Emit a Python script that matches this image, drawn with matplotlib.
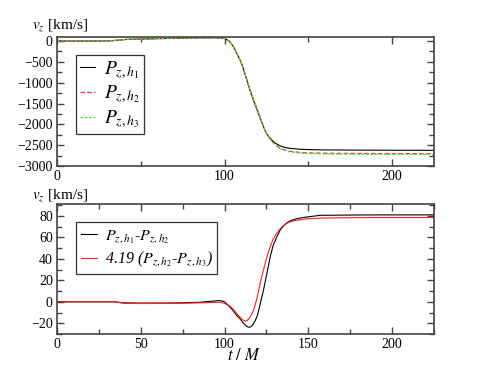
import numpy as np
import matplotlib as mpl
mpl.use('Agg')
import matplotlib.pyplot as plt
from matplotlib import ticker

plt.rcParams['font.family'] = ['Liberation Serif', 'DejaVu Serif']
plt.rcParams['mathtext.fontset'] = 'stix'
plt.rcParams['font.size'] = 10

# top panel: P_z for three resolutions
t_top = [0, 10, 20, 30, 34, 38, 42, 50, 60, 70, 85, 95, 100, 103, 105.3, 107, 109.3, 111,
         113.3, 115, 117.2, 120.2, 123.2, 125, 127.2, 130, 133.1, 136, 139.1, 145,
         150, 160, 180, 200, 225]
pz_h1 = [0, 0, 0, 2, 12, 28, 40, 48, 58, 66, 78, 80, 65, -10, -136, -270, -456, -640,
         -936, -1160, -1416, -1736, -2056, -2220, -2336, -2445, -2515, -2555, -2576, -2598,
         -2607, -2614, -2619, -2622, -2624]
pz_h2 = [0, 0, 0, 2, 12, 28, 40, 48, 58, 66, 78, 80, 65, -10, -136, -270, -455, -636,
         -928, -1148, -1398, -1715, -2046, -2222, -2355, -2480, -2570, -2620, -2648, -2675,
         -2686, -2694, -2700, -2703, -2705]
pz_h3 = [0, 0, 0, 2, 12, 28, 40, 48, 58, 66, 78, 80, 65, -10, -136, -270, -455, -635,
         -926, -1145, -1394, -1710, -2042, -2221, -2357, -2487, -2580, -2632, -2662, -2690,
         -2703, -2712, -2718, -2721, -2724]

# bottom panel: differences between resolutions
t_bot = [0, 20, 34, 36, 40, 50, 70, 85.4, 92, 97.3, 100, 103.3, 105.5, 107.3, 109.3,
         111, 112.3, 113.3, 114.3, 115.5, 116.5, 117.2, 118.2, 119.2, 120.2, 121.2,
         122.2, 123.2, 125.2, 127.2, 129, 131.2, 133.1, 135, 137.1, 139.1, 142, 145,
         149, 157, 170, 190, 210, 225]
d12 = [0, 0, 0, -0.3, -1.0, -1.2, -1.1, -0.4, 0.5, 1.2, 0.0, -5, -9, -12.8, -15.9,
       -19.5, -21.5, -22.9, -23.7, -23.4, -22.2, -20.5, -17.8, -14.4, -9.0, -2.5,
       4.2, 10.6, 26, 41.7, 52.5, 60.5, 66.6, 70.5, 73.5, 75.3, 77, 78,
       79, 80.6, 80.8, 81, 81, 81]
d23 = [0, 0, 0, -0.4, -1.4, -1.6, -1.5, -1.0, -0.7, -0.4, -1.5, -4, -7.5, -11, -14.5,
       -17, -18, -17.6, -16.2, -13.5, -10.8, -8, -3.5, 2.5, 9.5, 16.8,
       23.5, 29.5, 41.7, 51, 58.5, 64, 67.8, 70.8, 73, 74.5, 75.8, 76.5,
       77.3, 78, 78.3, 78.5, 78.5, 78.5]

fig = plt.figure(figsize=(4.91, 3.71), dpi=100)
ax1 = fig.add_axes([0.116, 0.5526, 0.768, 0.348])
ax2 = fig.add_axes([0.116, 0.0997, 0.768, 0.350])

ax1.plot(t_top, pz_h1, color='black', lw=0.8, label=r'$P_{z,h_1}$')
ax1.plot(t_top, pz_h2, color='#ff2a2a', lw=0.9, ls=(0, (3.5, 2)), label=r'$P_{z,h_2}$')
ax1.plot(t_top, pz_h3, color='#44e444', lw=0.9, ls=(0, (2, 1.5)), label=r'$P_{z,h_3}$')
ax1.set_xlim(0, 225)
ax1.set_ylim(-3000, 100)
ax1.xaxis.set_major_locator(ticker.MultipleLocator(100))
ax1.xaxis.set_minor_locator(ticker.MultipleLocator(50))
ax1.yaxis.set_major_locator(ticker.MultipleLocator(500))
ax1.yaxis.set_minor_locator(ticker.MultipleLocator(250))
leg1 = ax1.legend(loc='upper left', bbox_to_anchor=(0.05, 0.86), borderaxespad=0,
                  fontsize=14, handlelength=0.8, handletextpad=0.45, labelspacing=0.15,
                  fancybox=False, framealpha=1, edgecolor='#333333', borderpad=0.2)
leg1.get_frame().set_linewidth(0.9)

ax2.plot(t_bot, d12, color='black', lw=0.8, label=r'$P_{z,h_1}$-$P_{z,h_2}$')
ax2.plot(t_bot, d23, color='#ff2020', lw=0.8, label=r'4.19 ($P_{z,h_2}$-$P_{z,h_3}$)')
ax2.set_xlim(0, 225)
ax2.set_ylim(-30, 91)
ax2.xaxis.set_major_locator(ticker.MultipleLocator(50))
ax2.xaxis.set_minor_locator(ticker.MultipleLocator(25))
ax2.yaxis.set_major_locator(ticker.MultipleLocator(20))
ax2.yaxis.set_minor_locator(ticker.MultipleLocator(10))
leg2 = ax2.legend(loc='upper left', bbox_to_anchor=(0.05, 0.86), borderaxespad=0,
                  prop={'size': 11.5, 'style': 'italic'},
                  handlelength=1.0, handletextpad=0.5, labelspacing=0.35,
                  fancybox=False, framealpha=1, edgecolor='#333333', borderpad=0.3)
leg2.get_frame().set_linewidth(0.9)

for ax in (ax1, ax2):
    for s in ax.spines.values():
        s.set_linewidth(1.2)
        s.set_color('#444444')
    ax.tick_params(which='both', direction='in', top=True, right=True,
                   color='#444444', width=1.0, pad=3)
    ax.tick_params(which='major', length=5)
    ax.tick_params(which='minor', length=3.5)

fig.text(0.065, 0.933, r'$v_z$ [km/s]', fontsize=11, va='center', ha='left')
fig.text(0.065, 0.474, r'$v_z$ [km/s]', fontsize=11, va='center', ha='left')
fig.text(0.497, 0.04, r'$t\ /\ M$', fontsize=12, va='center', ha='center')

fig.savefig('out.png', dpi=100)
